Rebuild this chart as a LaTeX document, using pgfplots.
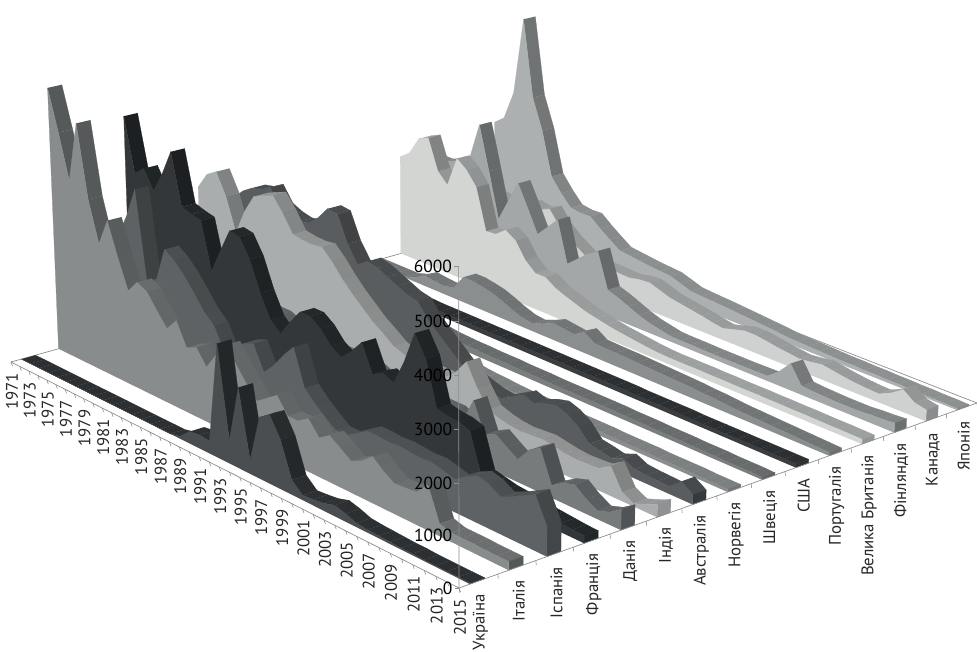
\documentclass[border=0pt]{standalone}
\usepackage{fontspec}
\setmainfont{PT Sans}
\usepackage{pgfplots}
\usepackage{pgfplotstable}
\pgfplotsset{compat=1.18}
\pgfplotstableread{
yr Ukr Ita Spa Fra Den Ind Aus Nor Swe USA Por GBR Fin Can Jap
1971 0 5550 2000 4600 1500 2700 2250 1000 900 150 30 2230 2000 1300 2470
1972 0 4700 2200 3470 1500 3060 2500 1000 900 150 30 2400 2000 1300 2650
1973 0 3780 2300 3650 1600 3200 2650 950 900 140 30 2800 2100 1300 3300
1974 0 5050 2500 3250 1500 2750 2700 950 950 140 30 2900 2200 1250 5050
1975 0 3550 3000 3700 1500 2050 2830 900 950 130 30 2230 2350 1230 3350
1976 0 2710 3650 4250 1400 2600 2500 900 900 130 100 2000 3170 1100 2670
1977 0 3280 1800 3170 1400 3000 2400 900 800 120 230 2680 2200 1300 1700
1978 0 2600 1900 3100 1400 3100 2350 850 750 120 200 2500 1200 1350 1400
1979 0 1990 2650 3050 1300 3190 2400 800 700 110 180 2200 1700 1300 1150
1980 0 2260 2500 2080 1300 2900 2600 800 650 110 230 1300 2180 1400 1110
1981 0 2150 2280 2600 1200 2540 2880 750 620 100 560 1320 1700 1100 1120
1982 0 1850 2000 3100 1200 2500 2850 750 600 100 560 1500 1200 900 930
1983 0 1570 1700 3060 1200 2490 2300 700 450 100 520 1350 1450 750 760
1984 0 1830 1500 2680 1100 2520 1950 700 300 100 470 1000 1700 600 600
1985 0 1360 1050 2070 1100 2300 2100 650 180 100 380 800 800 580 570
1986 0 1460 1150 1600 1100 2030 2050 650 150 100 280 800 1000 570 540
1987 0 1150 1420 1400 1000 1800 1950 600 140 100 200 650 1200 560 510
1988 50 1500 1500 1740 1000 1600 1850 400 130 100 170 560 1350 550 490
1989 250 1800 1010 2040 1000 1400 1750 300 130 100 260 480 580 600 470
1990 280 1500 1250 2040 1000 1250 1700 250 120 100 370 400 500 620 390
1991 260 1200 1560 1880 1000 1080 1400 200 120 100 340 350 400 540 310
1992 2340 940 1820 1620 1000 1000 1200 170 120 100 310 300 300 460 290
1993 480 1100 1080 1480 900 950 1000 150 110 100 450 260 220 420 275
1994 1650 1260 850 1700 900 900 800 140 110 100 300 230 170 380 260
1995 280 940 670 1980 900 900 600 120 110 100 290 200 120 340 240
1996 1250 940 500 1420 900 900 520 110 100 100 285 170 110 290 220
1997 1400 1090 500 1550 850 1100 450 100 100 100 280 150 110 250 200
1998 1000 800 650 1440 850 1420 420 100 100 100 270 140 105 320 180
1999 300 950 800 1970 850 980 560 100 100 100 260 140 100 385 160
2000 100 800 800 2640 850 630 700 100 100 100 250 140 100 385 130
2001 120 640 780 2220 730 550 620 90 100 90 240 140 100 350 120
2002 150 750 800 1320 1250 500 720 90 100 90 230 135 100 310 110
2003 220 940 780 1270 650 480 780 90 90 90 220 135 105 280 100
2004 160 750 760 1250 770 500 700 90 90 90 200 130 110 250 90
2005 80 610 780 1180 610 520 550 80 90 90 190 130 300 280 80
2006 60 630 720 400 460 480 290 80 80 80 170 130 570 320 80
2007 50 660 660 350 750 440 250 80 80 80 150 125 190 280 70
2008 40 900 820 300 900 420 200 80 80 80 140 125 170 240 70
2009 30 250 940 280 250 430 300 70 70 80 130 120 160 210 60
2010 30 180 880 250 400 450 190 70 70 80 120 120 150 190 60
2011 20 180 740 220 480 600 170 70 70 80 110 115 150 180 50
2012 20 180 850 200 300 180 160 70 60 80 100 110 150 300 50
2013 20 170 980 180 170 60 150 60 60 80 90 110 170 470 40
2014 20 170 1110 160 250 150 360 60 60 80 80 105 180 290 40
2015 20 170 590 150 410 260 200 60 50 80 70 100 200 240 30
}\datatab
\definecolor{fa0}{HTML}{4B4E50}\definecolor{st0}{HTML}{2E3234}\definecolor{ca0}{HTML}{2E3234}
\definecolor{fa1}{HTML}{888C8C}\definecolor{st1}{HTML}{6E7272}\definecolor{ca1}{HTML}{555859}
\definecolor{fa2}{HTML}{5E6264}\definecolor{st2}{HTML}{505456}\definecolor{ca2}{HTML}{434648}
\definecolor{fa3}{HTML}{33373A}\definecolor{st3}{HTML}{24292B}\definecolor{ca3}{HTML}{212628}
\definecolor{fa4}{HTML}{777B7B}\definecolor{st4}{HTML}{606466}\definecolor{ca4}{HTML}{505456}
\definecolor{fa5}{HTML}{AAADAD}\definecolor{st5}{HTML}{959898}\definecolor{ca5}{HTML}{8F9293}
\definecolor{fa6}{HTML}{5A5D5F}\definecolor{st6}{HTML}{4C4F51}\definecolor{ca6}{HTML}{36393B}
\definecolor{fa7}{HTML}{8A8D8D}\definecolor{st7}{HTML}{7F8383}\definecolor{ca7}{HTML}{707474}
\definecolor{fa8}{HTML}{7A7E7E}\definecolor{st8}{HTML}{6A6E6E}\definecolor{ca8}{HTML}{5C6060}
\definecolor{fa9}{HTML}{3A3E40}\definecolor{st9}{HTML}{2D3133}\definecolor{ca9}{HTML}{2D3133}
\definecolor{fa10}{HTML}{8B8E8E}\definecolor{st10}{HTML}{757979}\definecolor{ca10}{HTML}{6A6E6E}
\definecolor{fa11}{HTML}{D3D5D3}\definecolor{st11}{HTML}{A0A3A3}\definecolor{ca11}{HTML}{939696}
\definecolor{fa12}{HTML}{A4A7A7}\definecolor{st12}{HTML}{848888}\definecolor{ca12}{HTML}{6B6F6F}
\definecolor{fa13}{HTML}{CFD0D0}\definecolor{st13}{HTML}{9DA0A0}\definecolor{ca13}{HTML}{8A8D8D}
\definecolor{fa14}{HTML}{ADB0B0}\definecolor{st14}{HTML}{909393}\definecolor{ca14}{HTML}{808484}
% perspective map: u = position along years (0..1), v = position along countries (0..1), z = value/1000
\newcommand\PW[3]{(1-0.13126*(#1)+0.11446*(#2)-0.004741*(#3))}
\newcommand\PX[3]{\fpeval{round((387.75*(#1)+561.83*(#2)+11-2.228*(#3))/\PW{#1}{#2}{#3},2)}}
\newcommand\PY[3]{\fpeval{round((148.82*(#1)-114.59*(#2)+362-47.88*(#3))/\PW{#1}{#2}{#3},2)}}
\newcommand\ribbon[1]{%
 \edef\vf{\fpeval{(#1+0.28+0.005*#1)/15}}\edef\vb{\fpeval{(#1+0.66+0.005*#1)/15}}%
 \edef\cl{\fpeval{#1+1}}%
 \edef\facepts{(\PX{0}{\vf}{0},\PY{0}{\vf}{0})}%
 \pgfplotsforeachungrouped \i in {0,...,43}{%
  \edef\ii{\fpeval{\i+1}}%
  \pgfplotstablegetelem{\i}{[index]\cl}\of\datatab\edef\za{\fpeval{\pgfplotsretval/1000}}%
  \pgfplotstablegetelem{\ii}{[index]\cl}\of\datatab\edef\zb{\fpeval{\pgfplotsretval/1000}}%
  \edef\ua{\fpeval{\i/44}}\edef\ub{\fpeval{\ii/44}}%
  \edef\xfa{\PX{\ua}{\vf}{\za}}\edef\yfa{\PY{\ua}{\vf}{\za}}%
  \edef\xfb{\PX{\ub}{\vf}{\zb}}\edef\yfb{\PY{\ub}{\vf}{\zb}}%
  \edef\xba{\PX{\ua}{\vb}{\za}}\edef\yba{\PY{\ua}{\vb}{\za}}%
  \edef\xbb{\PX{\ub}{\vb}{\zb}}\edef\ybb{\PY{\ub}{\vb}{\zb}}%
  \ifnum\i=0 \edef\facepts{\facepts (\xfa,\yfa)}\fi
  \edef\facepts{\facepts (\xfb,\yfb)}%
  \ifnum\fpeval{(((\xfb-\xfa)*(\yba-\yfa)-(\yfb-\yfa)*(\xba-\xfa))<0)?1:0}=1
   \edef\mx{\fpeval{round(100-22*min(1,abs(\yfb-\yfa)/(\xfb-\xfa)/4),0)}}%
   \edef\tmp{\noexpand\addplot[fill=st#1!\mx!black,draw=st#1!\mx!black,line width=0.25pt] coordinates {(\xfa,\yfa)(\xfb,\yfb)(\xbb,\ybb)(\xba,\yba)};}\tmp
  \fi
 }%
 \pgfplotstablegetelem{44}{[index]\cl}\of\datatab\edef\zb{\fpeval{\pgfplotsretval/1000}}%
 \edef\tmp{\noexpand\addplot[fill=ca#1,draw=ca#1,line width=0.25pt] coordinates {(\PX{1}{\vf}{0},\PY{1}{\vf}{0})(\PX{1}{\vb}{0},\PY{1}{\vb}{0})(\PX{1}{\vb}{\zb},\PY{1}{\vb}{\zb})(\PX{1}{\vf}{\zb},\PY{1}{\vf}{\zb})};}\tmp
 \edef\facepts{\facepts (\PX{1}{\vf}{0},\PY{1}{\vf}{0})}%
 \edef\tmp{\noexpand\addplot[fill=fa#1,draw=fa#1,line width=0.25pt] coordinates {\facepts};}\tmp
}
\definecolor{axc}{HTML}{8C8F8F}
\tikzset{yrlab/.style={rotate=90,anchor=east,inner sep=0pt,font=\fontsize{16.8}{18}\selectfont,text=black!85},
 zlab/.style={anchor=east,inner sep=0pt,font=\fontsize{17.5}{19}\selectfont,text=black}}
\begin{document}
\begin{tikzpicture}
\begin{axis}[at={(0pt,0pt)},anchor=south west,width=977pt,height=652pt,scale only axis,xmin=0,xmax=977,ymin=0,ymax=652,y dir=reverse,axis lines=none,clip=true]
% floor outline
\edef\tmp{\noexpand\addplot[axc,line width=0.7pt] coordinates {(\PX{0}{0}{0},\PY{0}{0}{0})(\PX{0}{1}{0},\PY{0}{1}{0})(\PX{1}{1}{0},\PY{1}{1}{0})};}\tmp
\ribbon{14}\ribbon{13}\ribbon{12}\ribbon{11}\ribbon{10}\ribbon{9}\ribbon{8}\ribbon{7}\ribbon{6}\ribbon{5}\ribbon{4}\ribbon{3}\ribbon{2}\ribbon{1}\ribbon{0}
% floor front axes
\edef\tmp{\noexpand\addplot[axc,line width=0.7pt] coordinates {(\PX{0}{0}{0},\PY{0}{0}{0})(\PX{1}{0}{0},\PY{1}{0}{0})(\PX{1}{1}{0},\PY{1}{1}{0})};}\tmp
\edef\tmp{\noexpand\addplot[axc,line width=0.7pt] coordinates {(\PX{1}{0}{0},\PY{1}{0}{0})(\PX{1}{0}{6},\PY{1}{0}{6})};}\tmp
\pgfplotsforeachungrouped \i in {0,...,44}{%
 \edef\ua{\fpeval{\i/44}}\edef\xx{\PX{\ua}{0}{0}}\edef\yy{\PY{\ua}{0}{0}}%
 \edef\tmp{\noexpand\addplot[axc,line width=0.6pt] coordinates {(\xx,\yy)(\fpeval{\xx+1.5},\fpeval{\yy+4})};}\tmp
 \ifodd\i\else
  \edef\tmp{\noexpand\node[yrlab] at (axis cs:\fpeval{\xx+1},\fpeval{\yy+11}) {\fpeval{1971+\i}};}\tmp
 \fi
}
\pgfplotsforeachungrouped \i in {0,...,15}{%
 \edef\vv{\fpeval{\i/15}}\edef\xx{\PX{1}{\vv}{0}}\edef\yy{\PY{1}{\vv}{0}}%
 \edef\tmp{\noexpand\addplot[axc,line width=0.6pt] coordinates {(\xx,\yy)(\fpeval{\xx+0.5},\fpeval{\yy+4.5})};}\tmp
}
\pgfplotsforeachungrouped \i in {0,...,6}{%
 \edef\xx{\PX{1}{0}{\i}}\edef\yy{\PY{1}{0}{\i}}%
 \edef\tmp{\noexpand\addplot[axc,line width=0.6pt] coordinates {(\xx,\yy)(\fpeval{\xx-4.5},\yy)};}\tmp
 \edef\tmp{\noexpand\node[zlab] at (axis cs:\fpeval{\xx-6.5},\yy) {\fpeval{\i*1000}};}\tmp
}
\newcommand\slab[2]{\edef\vv{\fpeval{(#1+0.5)/15}}\edef\xx{\PX{1}{\vv}{0}}\edef\yy{\PY{1}{\vv}{0}}%
 \edef\tmp{\noexpand\node[yrlab] at (axis cs:\fpeval{\xx+2},\fpeval{\yy+13}) {#2};}\tmp}
\slab{0}{Україна}\slab{1}{Італія}\slab{2}{Іспанія}\slab{3}{Франція}\slab{4}{Данія}\slab{5}{Індія}\slab{6}{Австралія}\slab{7}{Норвегія}\slab{8}{Швеція}\slab{9}{США}\slab{10}{Португалія}\slab{11}{Велика Британія}\slab{12}{Фінляндія}\slab{13}{Канада}\slab{14}{Японія}
\end{axis}
\pgfresetboundingbox
\path[use as bounding box] (0pt,0pt) rectangle (977pt,652pt);
\end{tikzpicture}
\end{document}
